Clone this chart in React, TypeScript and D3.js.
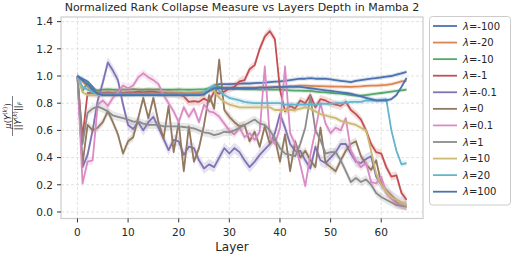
import * as d3 from "d3";

// layer index on the x axis
const layers = d3.range(66);

const lambdaLabels = ["-100", "-20", "-10", "-1", "-0.1", "0", "0.1", "1", "10", "20", "100"];

// seaborn "deep" palette, wraps round for the 11th series
const palette = [
  "#4c72b0", "#dd8452", "#55a868", "#c44e52", "#8172b3",
  "#937860", "#da8bc3", "#8c8c8c", "#ccb974", "#64b5cd", "#4c72b0",
];

const yTicks = [0, 0.2, 0.4, 0.6, 0.8, 1.0, 1.2, 1.4];
const xTicks = [0, 10, 20, 30, 40, 50, 60];

// values, one per layer (0..65)
const lamNeg100 = [
  1.0, 0.98, 0.96, 0.92, 0.88, 0.87, 0.87, 0.87, 0.87, 0.87, 0.87, 0.87, 0.87, 0.87, 0.87, 0.87,
  0.87, 0.87, 0.87, 0.87, 0.87, 0.87, 0.87, 0.875, 0.875, 0.88, 0.9, 0.93, 0.94, 0.94, 0.94, 0.942,
  0.944, 0.945, 0.945, 0.948, 0.95, 0.952, 0.955, 0.958, 0.96, 0.965, 0.97, 0.975, 0.98, 0.98, 0.985, 0.98,
  0.98, 0.98, 0.975, 0.97, 0.965, 0.96, 0.955, 0.965, 0.97, 0.975, 0.98, 0.985, 0.99, 0.995, 1.0, 1.01,
  1.02, 1.03,
];
const lamNeg20 = [
  1.0, 0.96, 0.92, 0.89, 0.88, 0.878, 0.877, 0.878, 0.877, 0.878, 0.877, 0.878, 0.877, 0.878, 0.878, 0.877,
  0.878, 0.877, 0.878, 0.877, 0.878, 0.877, 0.878, 0.878, 0.879, 0.88, 0.89, 0.91, 0.915, 0.915, 0.913, 0.912,
  0.913, 0.914, 0.915, 0.915, 0.916, 0.917, 0.918, 0.918, 0.92, 0.922, 0.925, 0.927, 0.93, 0.93, 0.928, 0.926,
  0.925, 0.924, 0.923, 0.922, 0.922, 0.921, 0.92, 0.922, 0.924, 0.928, 0.93, 0.93, 0.932, 0.935, 0.94, 0.95,
  0.96, 0.965,
];
const lamNeg10 = [
  1.0, 0.89, 0.95, 0.9, 0.895, 0.9, 0.902, 0.9, 0.898, 0.902, 0.9, 0.903, 0.9, 0.899, 0.902, 0.9,
  0.901, 0.9, 0.899, 0.9, 0.902, 0.9, 0.899, 0.9, 0.901, 0.902, 0.91, 0.93, 0.92, 0.906, 0.905, 0.904,
  0.903, 0.902, 0.902, 0.901, 0.9, 0.9, 0.9, 0.9, 0.9, 0.897, 0.895, 0.893, 0.892, 0.89, 0.89, 0.885,
  0.882, 0.88, 0.876, 0.872, 0.87, 0.865, 0.86, 0.855, 0.855, 0.86, 0.865, 0.87, 0.875, 0.88, 0.885, 0.89,
  0.895, 0.9,
];
const lamNeg1 = [
  1.0, 0.55, 0.875, 0.875, 0.87, 0.875, 0.88, 0.875, 0.88, 0.875, 0.88, 0.88, 0.885, 0.88, 0.885, 0.885,
  0.88, 0.875, 0.87, 0.87, 0.865, 0.85, 0.81, 0.815, 0.81, 0.835, 0.81, 0.885, 0.87, 0.885, 0.91, 0.92,
  0.96, 0.97, 1.05, 1.08, 1.2, 1.29, 1.33, 1.27, 0.9, 0.74, 0.78, 0.76, 0.82, 0.8, 0.86, 0.77,
  0.83, 0.82, 0.8, 0.79, 0.78, 0.81, 0.75, 0.72, 0.68, 0.6, 0.5, 0.44, 0.43, 0.33, 0.26, 0.27,
  0.14, 0.09,
];
const lamNeg01 = [
  1.0, 0.33, 0.42, 0.6, 0.82, 0.95, 1.1, 1.04, 0.97, 0.79, 0.64, 0.61, 0.66, 0.6, 0.66, 0.7,
  0.62, 0.54, 0.455, 0.53, 0.52, 0.42, 0.48, 0.47, 0.38, 0.32, 0.35, 0.33, 0.4, 0.47, 0.43, 0.47,
  0.44, 0.38, 0.33, 0.37, 0.42, 0.46, 0.5, 0.58, 0.72, 0.62, 0.5, 0.45, 0.45, 0.38, 0.32, 0.48,
  0.38, 0.36, 0.4, 0.44, 0.5, 0.5, 0.43, 0.37, 0.36, 0.39, 0.41, 0.26, 0.2, 0.16, 0.12, 0.09,
  0.07, 0.05,
];
const lam0 = [
  1.0, 0.35, 0.64, 0.6, 0.62, 0.66, 0.74, 0.66, 0.57, 0.43, 0.52, 0.55, 0.69, 0.84, 0.69, 0.84,
  0.66, 0.54, 0.78, 0.44, 0.66, 0.3, 0.63, 0.37, 0.47, 0.64, 0.86, 0.76, 1.12, 0.75, 0.7, 0.66,
  0.63, 0.64, 0.52, 0.59, 0.48, 0.63, 0.5, 0.54, 0.37, 0.57, 0.3, 0.52, 0.4, 0.45, 0.38, 0.33,
  0.62, 0.36, 0.33, 0.3, 0.38, 0.45, 0.5, 0.52, 0.41, 0.35, 0.31, 0.38, 0.21, 0.15, 0.12, 0.07,
  0.05, 0.04,
];
const lam01 = [
  1.0, 0.21, 0.37, 0.38, 0.79, 0.82, 0.78, 0.84, 0.88, 0.93, 0.91, 0.93, 0.99, 1.02, 0.99, 0.97,
  0.94, 0.86, 0.8, 0.74, 0.66, 0.77, 0.7, 0.76, 0.66, 0.79, 0.74, 0.73, 0.7, 0.65, 0.6, 0.57,
  0.62, 0.55, 0.58, 0.53, 0.59, 1.07, 0.55, 0.5, 0.62, 1.07, 0.58, 0.5, 0.35, 0.19, 0.42, 0.6,
  0.8, 0.65, 0.58, 0.62, 0.6, 0.69, 0.45, 0.38, 0.33, 0.36, 0.22, 0.21, 0.26, 0.14, 0.1, 0.06,
  0.05, 0.05,
];
const lam1 = [
  1.0, 0.5, 0.73, 0.76, 0.775, 0.76, 0.74, 0.71, 0.7, 0.69, 0.68, 0.665, 0.665, 0.65, 0.64, 0.64,
  0.64, 0.63, 0.63, 0.63, 0.63, 0.625, 0.62, 0.615, 0.6, 0.585, 0.58, 0.565, 0.575, 0.59, 0.585, 0.6,
  0.62, 0.64, 0.66, 0.68, 0.65, 0.64, 0.6, 0.54, 0.47, 0.43, 0.42, 0.41, 0.5, 0.62, 0.85, 0.6,
  0.53, 0.43, 0.44, 0.44, 0.38, 0.3, 0.22, 0.25, 0.22, 0.24, 0.2, 0.14, 0.11, 0.09, 0.07, 0.05,
  0.045, 0.04,
];
const lam10 = [
  1.0, 0.88, 0.86, 0.86, 0.86, 0.86, 0.86, 0.86, 0.86, 0.86, 0.86, 0.86, 0.86, 0.86, 0.86, 0.86,
  0.86, 0.86, 0.86, 0.86, 0.86, 0.86, 0.86, 0.86, 0.86, 0.86, 0.9, 0.89, 0.84, 0.81, 0.79, 0.78,
  0.77, 0.77, 0.77, 0.77, 0.77, 0.77, 0.77, 0.75, 0.75, 0.75, 0.75, 0.75, 0.76, 0.77, 0.76, 0.74,
  0.72, 0.71, 0.7, 0.69, 0.67, 0.66, 0.65, 0.64, 0.62, 0.6, 0.45, 0.28, 0.2, 0.15, 0.11, 0.09,
  0.07, 0.05,
];
const lam20 = [
  1.0, 0.92, 0.9, 0.88, 0.87, 0.865, 0.865, 0.865, 0.865, 0.865, 0.865, 0.865, 0.865, 0.865, 0.865, 0.865,
  0.865, 0.865, 0.865, 0.865, 0.865, 0.865, 0.865, 0.865, 0.865, 0.875, 0.91, 0.93, 0.89, 0.86, 0.84, 0.83,
  0.82, 0.81, 0.805, 0.8, 0.8, 0.8, 0.8, 0.8, 0.8, 0.79, 0.79, 0.79, 0.79, 0.79, 0.79, 0.79,
  0.795, 0.795, 0.795, 0.8, 0.8, 0.8, 0.81, 0.81, 0.81, 0.82, 0.82, 0.82, 0.825, 0.83, 0.6, 0.45,
  0.35, 0.36,
];
const lam100 = [
  1.0, 0.97, 0.94, 0.9, 0.87, 0.86, 0.86, 0.86, 0.86, 0.86, 0.86, 0.86, 0.86, 0.86, 0.86, 0.86,
  0.86, 0.86, 0.86, 0.86, 0.86, 0.86, 0.86, 0.86, 0.86, 0.865, 0.89, 0.91, 0.91, 0.91, 0.91, 0.91,
  0.91, 0.91, 0.91, 0.91, 0.915, 0.915, 0.915, 0.918, 0.918, 0.92, 0.92, 0.92, 0.92, 0.915, 0.91, 0.905,
  0.9, 0.895, 0.89, 0.885, 0.88, 0.875, 0.87, 0.86, 0.85, 0.84, 0.83, 0.82, 0.82, 0.82, 0.83, 0.86,
  0.92, 0.985,
];

const seriesValues = [lamNeg100, lamNeg20, lamNeg10, lamNeg1, lamNeg01, lam0, lam01, lam1, lam10, lam20, lam100];
// half width of the shaded band of each series
const bandSpread = [0.015, 0.015, 0.015, 0.03, 0.04, 0.03, 0.03, 0.03, 0.02, 0.02, 0.015];

const FONT = "DejaVu Sans";
const TEXT = "#262626";

export default function App() {
  const W = 512;
  const H = 258;
  const left = 61, right = 423, top = 17, bottom = 218.5;

  const x = d3.scaleLinear().domain([-3.25, 68.25]).range([left, right]);
  const y = d3.scaleLinear().domain([-0.048, 1.434]).range([bottom, top]);

  const line = d3
    .line<number>()
    .x((_, i) => x(layers[i]))
    .y((d) => y(d));

  const band = (spread: number) =>
    d3
      .area<number>()
      .x((_, i) => x(layers[i]))
      .y0((d) => y(d - spread))
      .y1((d) => y(d + spread));

  const legendX = 429.5, legendY = 16.5, rowH = 16.57;

  return (
    <svg
      width={W}
      height={H}
      style={{ position: "absolute", left: 0, top: 0, background: "#fff" }}
      fontFamily={FONT}
    >
      <text x={242} y={11} textAnchor="middle" fontSize={11} fill={TEXT}>
        Normalized Rank Collapse Measure vs Layers Depth in Mamba 2
      </text>

      {/* grid */}
      <g stroke="#dcdcdc" strokeWidth={0.8} strokeDasharray="3,2">
        {yTicks.map((t) => (
          <line key={"gy" + t} x1={left} x2={right} y1={y(t)} y2={y(t)} />
        ))}
        {xTicks.map((t) => (
          <line key={"gx" + t} x1={x(t)} x2={x(t)} y1={top} y2={bottom} />
        ))}
      </g>

      {/* bands then lines, in hue order */}
      <g clipPath="url(#plotClip)">
        {seriesValues.map((vals, k) => (
          <g key={k}>
            <path d={band(bandSpread[k])(vals) || ""} fill={palette[k]} opacity={0.2} />
            <path d={line(vals) || ""} fill="none" stroke={palette[k]} strokeWidth={1.8} strokeLinejoin="round" />
          </g>
        ))}
      </g>
      <defs>
        <clipPath id="plotClip">
          <rect x={left} y={top} width={right - left} height={bottom - top} />
        </clipPath>
      </defs>

      {/* frame */}
      <rect x={left} y={top} width={right - left} height={bottom - top} fill="none" stroke="#cccccc" strokeWidth={1.2} />

      {/* y axis */}
      {yTicks.map((t) => (
        <g key={"yt" + t} transform={`translate(0,${y(t)})`}>
          <line x1={left - 4} x2={left} stroke="#333" strokeWidth={1} />
          <text x={left - 8} dy="0.36em" textAnchor="end" fontSize={10.5} fill={TEXT}>
            {t.toFixed(1)}
          </text>
        </g>
      ))}

      {/* x axis */}
      {xTicks.map((t) => (
        <g key={"xt" + t} transform={`translate(${x(t)},0)`}>
          <line y1={bottom} y2={bottom + 4} stroke="#333" strokeWidth={1} />
          <text y={235.5} textAnchor="middle" fontSize={10.5} fill={TEXT}>
            {t}
          </text>
        </g>
      ))}
      <text x={x(30.5)} y={251} textAnchor="middle" fontSize={12} fill={TEXT}>
        Layer
      </text>

      {/* y label: mu(Y^(k)) / ||Y^(k)||_F */}
      <g transform="translate(12.5,116) rotate(-90)" fill={TEXT}>
        <text x={0} y={-2} textAnchor="middle" fontSize={8.5}>
          <tspan fontStyle="italic">μ</tspan>
          <tspan>(</tspan>
          <tspan fontStyle="italic">Y</tspan>
          <tspan fontSize={6} dy={-3.5}>(</tspan>
          <tspan fontSize={6} fontStyle="italic">k</tspan>
          <tspan fontSize={6}>)</tspan>
          <tspan dy={3.5}>)</tspan>
        </text>
        <line x1={-20} x2={20} y1={0} y2={0} stroke={TEXT} strokeWidth={0.6} />
        <text x={0} y={8} textAnchor="middle" fontSize={8.5}>
          <tspan>||</tspan>
          <tspan fontStyle="italic">Y</tspan>
          <tspan fontSize={6} dy={-3.5}>(</tspan>
          <tspan fontSize={6} fontStyle="italic">k</tspan>
          <tspan fontSize={6}>)</tspan>
          <tspan dy={3.5}>||</tspan>
          <tspan fontSize={6} fontStyle="italic" dy={1.5}>F</tspan>
        </text>
      </g>

      {/* legend */}
      <rect x={legendX} y={legendY} width={81} height={188.5} rx={3} fill="#fff" fillOpacity={0.8} stroke="#cccccc" strokeWidth={1} />
      {lambdaLabels.map((lab, k) => {
        const cy = 26 + k * rowH;
        return (
          <g key={"lg" + k}>
            <line x1={433} x2={457} y1={cy} y2={cy} stroke={palette[k]} strokeWidth={1.8} />
            <text x={463} y={cy} dy="0.36em" fontSize={10} fill={TEXT}>
              <tspan fontStyle="italic">λ</tspan>
              <tspan>={lab}</tspan>
            </text>
          </g>
        );
      })}
    </svg>
  );
}
